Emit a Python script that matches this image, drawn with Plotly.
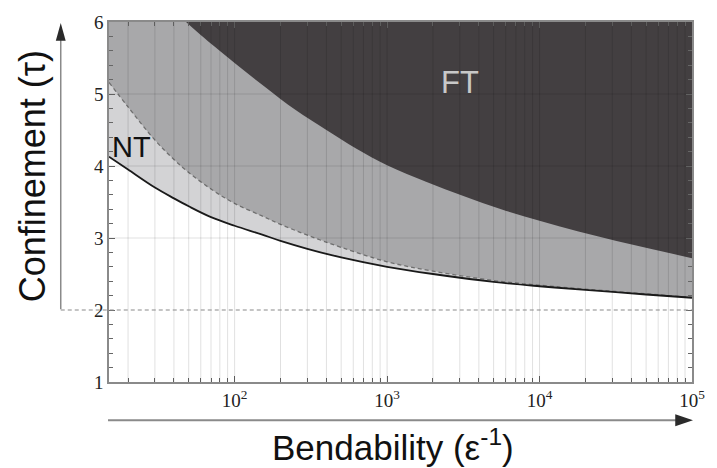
import math
import plotly.graph_objects as go

# Phase boundaries: confinement tau versus bendability 1/epsilon
bend_nt = [15, 20, 30, 40, 50, 70, 100, 150, 200, 300, 500, 1000, 2000, 5000, 10000, 20000, 50000, 100000]
tau_nt_lower = [4.13, 3.95, 3.70, 3.55, 3.44, 3.29, 3.17, 3.05, 2.96, 2.85, 2.73, 2.60, 2.50, 2.39, 2.33, 2.28, 2.215, 2.17]
tau_nt_upper = [5.16, 4.82, 4.36, 4.09, 3.91, 3.68, 3.48, 3.31, 3.19, 3.04, 2.87, 2.67, 2.54, 2.41, 2.345, 2.29, 2.225, 2.175]

bend_ft = [48, 63, 100, 160, 250, 400, 630, 1000, 1800, 3200, 5600, 10000, 18000, 32000, 56000, 100000]
tau_ft = [6.00, 5.78, 5.43, 5.09, 4.78, 4.50, 4.24, 4.01, 3.78, 3.58, 3.40, 3.24, 3.09, 2.96, 2.84, 2.72]

X_MIN, X_MAX = 15, 100000
Y_MIN, Y_MAX = 1, 6

x_major = [100, 1000, 10000, 100000]
x_major_text = ["10<sup>2</sup>", "10<sup>3</sup>", "10<sup>4</sup>", "10<sup>5</sup>"]
x_minor = [m * 10 ** d for d in range(1, 5) for m in range(2, 10) if X_MIN <= m * 10 ** d <= X_MAX]
y_major = [1, 2, 3, 4, 5, 6]
y_minor = [round(1 + 0.2 * i, 1) for i in range(26) if (i % 5) != 0]

C_LIGHT = "#d3d3d5"
C_MED = "#a8a8aa"
C_DARK = "#433f41"

fig = go.Figure()


def band(xs, ys, color):
    # fill from a boundary curve up to the top of the plot
    fig.add_trace(go.Scatter(x=xs, y=[Y_MAX] * len(xs), mode="lines",
                             line=dict(width=0, shape="spline"), hoverinfo="skip",
                             showlegend=False))
    fig.add_trace(go.Scatter(x=xs, y=ys, mode="lines", fill="tonexty",
                             fillcolor=color, line=dict(width=0, shape="spline"),
                             hoverinfo="skip", showlegend=False))


band(bend_nt, tau_nt_lower, C_LIGHT)
band(bend_nt, tau_nt_upper, C_MED)
band(bend_ft, tau_ft, C_DARK)

fig.add_trace(go.Scatter(x=bend_nt, y=tau_nt_upper, mode="lines",
                         line=dict(color="#707070", width=1.3, dash="4px,3px", shape="spline"),
                         showlegend=False))
fig.add_trace(go.Scatter(x=bend_nt, y=tau_nt_lower, mode="lines",
                         line=dict(color="#1a1a1a", width=1.8, shape="spline"),
                         showlegend=False))

shapes = []
grid_col = "rgba(0,0,0,0.12)"
for xv in x_minor + x_major[:-1]:
    shapes.append(dict(type="line", xref="x", yref="paper", x0=xv, x1=xv, y0=0, y1=1,
                       line=dict(color=grid_col, width=1), layer="above"))
for yv in [3, 4, 5]:
    shapes.append(dict(type="line", xref="paper", yref="y", x0=0, x1=1, y0=yv, y1=yv,
                       line=dict(color=grid_col, width=1), layer="above"))

# plot geometry in pixels, used for the decorations outside the axes
L, R, T, B = 109, 701, 15, 381.7
PW, PH = R - L, B - T


def px(xp):
    return (xp - L) / PW


def py(yp):
    return (B - yp) / PH


# dashed reference line at tau = 2, running out to the vertical arrow
shapes.append(dict(type="line", xref="paper", yref="y", x0=px(60), x1=1, y0=2, y1=2,
                   line=dict(color="#8a8a8a", width=1.1, dash="4px,3px"), layer="above"))
# vertical axis arrow
shapes.append(dict(type="line", xref="paper", yref="paper", x0=px(60), x1=px(60),
                   y0=py(307.7), y1=py(30), line=dict(color="#8a8a8a", width=1.5)))
shapes.append(dict(type="path", xref="paper", yref="paper",
                   path=f"M {px(60)} {py(16)} L {px(55)} {py(34)} L {px(65)} {py(34)} Z",
                   fillcolor="#2a2a2a", line=dict(width=0)))
# horizontal axis arrow
shapes.append(dict(type="line", xref="paper", yref="paper", x0=px(108), x1=px(688),
                   y0=py(420.7), y1=py(420.7), line=dict(color="#8a8a8a", width=2)))
shapes.append(dict(type="path", xref="paper", yref="paper",
                   path=f"M {px(702)} {py(420.7)} L {px(684)} {py(414.5)} L {px(684)} {py(426.9)} Z",
                   fillcolor="#2a2a2a", line=dict(width=0)))

annotations = [
    dict(text="NT", x=1.325, y=4.26, xref="x", yref="y", showarrow=False,
         font=dict(family="Liberation Sans", size=29, color="#111111")),
    dict(text="FT", x=3.477, y=5.16, xref="x", yref="y", showarrow=False,
         font=dict(family="Liberation Sans", size=31, color="#c8c8c8")),
    dict(text="Confinement (τ)", x=px(31), y=py(172), xref="paper", yref="paper",
         textangle=-90, showarrow=False, xanchor="center", yanchor="middle",
         font=dict(family="Liberation Sans", size=36, color="#111111")),
    dict(text="Bendability (ε<sup>-1</sup>)", x=px(397), y=py(446), xref="paper", yref="paper",
         showarrow=False, xanchor="center", yanchor="middle",
         font=dict(family="Liberation Sans", size=35, color="#111111")),
]

tick_font = dict(family="Liberation Serif", size=19, color="#222222")
fig.update_layout(
    width=717, height=468,
    margin=dict(l=L, r=717 - R, t=T, b=468 - B),
    paper_bgcolor="white", plot_bgcolor="white",
    showlegend=False,
    shapes=shapes,
    annotations=annotations,
    xaxis=dict(type="log", range=[math.log10(X_MIN), math.log10(X_MAX)],
               tickvals=x_major, ticktext=x_major_text, tickfont=tick_font,
               ticks="inside", ticklen=6, tickcolor="#666666", showgrid=False,
               showline=True, linecolor="#8a8a8a", linewidth=1.5, mirror="ticks",
               zeroline=False, layer="above traces",
               minor=dict(tickvals=x_minor, ticks="inside", ticklen=4,
                          tickcolor="#666666", showgrid=False)),
    yaxis=dict(range=[Y_MIN, Y_MAX], tickvals=y_major, ticktext=[str(v) for v in y_major],
               tickfont=tick_font, ticks="inside", ticklen=6, tickcolor="#666666",
               showgrid=False, showline=True, linecolor="#8a8a8a", linewidth=1.5,
               mirror="ticks", zeroline=False, layer="above traces",
               minor=dict(tickvals=y_minor, ticks="inside", ticklen=4,
                          tickcolor="#666666", showgrid=False)),
)

fig.write_html("out.html")
